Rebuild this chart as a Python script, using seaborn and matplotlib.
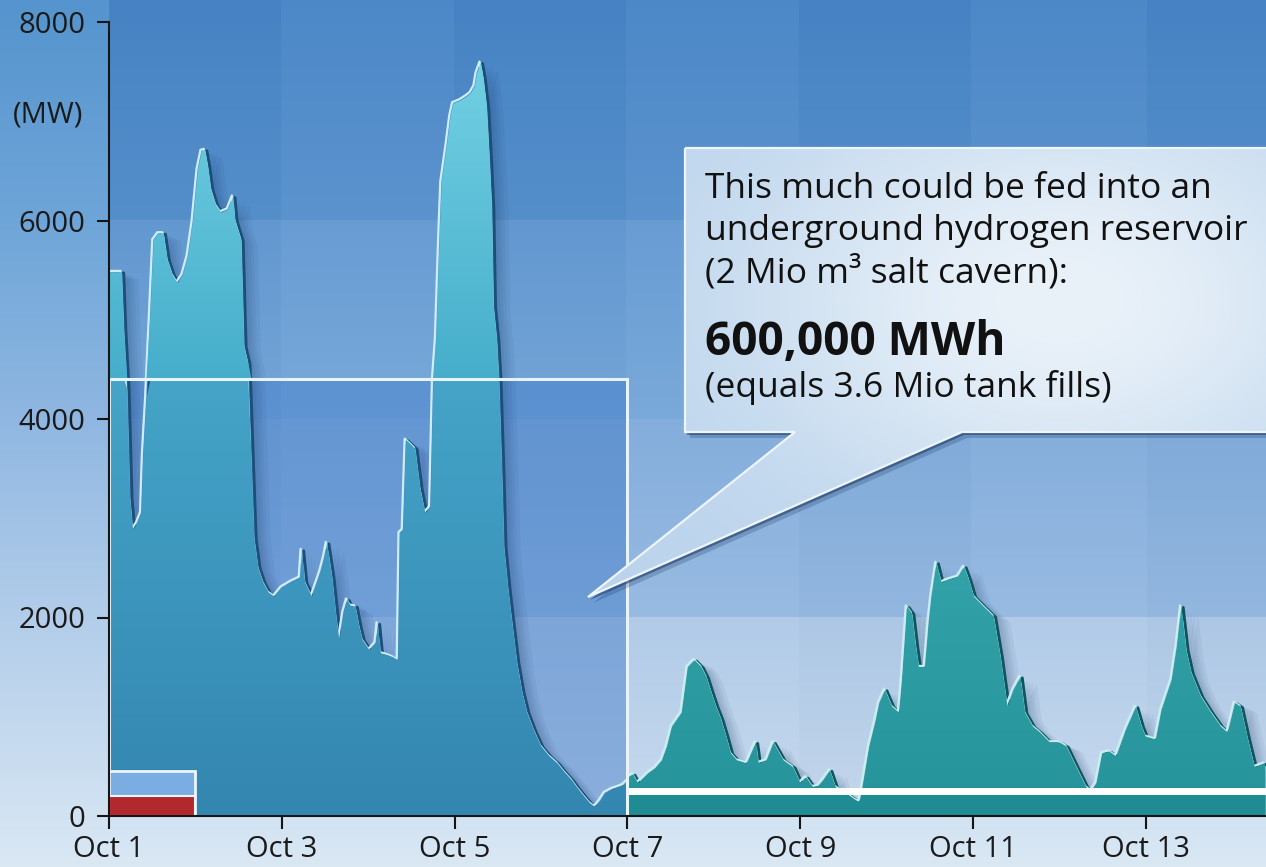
import numpy as np
import pandas as pd
import matplotlib
matplotlib.use("Agg")
import matplotlib.pyplot as plt
import seaborn as sns
from matplotlib.colors import LinearSegmentedColormap, to_rgb
from matplotlib.path import Path
from matplotlib.patches import Polygon, Rectangle
from matplotlib.transforms import offset_copy

sns.set_style("ticks")
plt.rcParams["font.family"] = ["Open Sans", "DejaVu Sans"]

# ---------------------------------------------------------------- data
# hours since Oct 1 00:00 and surplus wind power (MW), Oct 1 - Oct 7
hours_a = [0, 3.6, 4.2, 5.1, 5.9, 6.7, 7.9, 9.0, 9.5, 10.4,
           11.5, 12.4, 13.8, 15.2, 16.3, 17.7, 19.1, 20.5, 21.9, 23.3,
           24.7, 25.8, 26.7, 27.5, 28.4, 29.8, 31.2, 33.1, 34.5, 35.1,
           36.8, 37.6, 38.7, 39.6, 40.4, 41.5, 42.9, 44.4, 46.0, 48.0,
           50.8, 53.1, 53.6, 54.5, 56.4, 58.7, 59.8, 60.6, 62.0, 63.2,
           64.0, 65.2, 66.2, 67.1, 68.5, 69.6, 70.5, 72.4, 74.1, 74.7,
           75.5, 77.5, 78.9, 80.3, 80.8, 81.7, 82.5, 83.7, 85.1, 86.5,
           87.9, 89.3, 90.1, 90.9, 91.8, 92.4, 93.8, 94.9, 95.7, 97.7,
           99.4, 100.5, 101.6, 102.2, 103.3, 104.1, 105.0, 105.8, 106.4, 106.9,
           107.8, 108.4, 109.2, 109.8, 110.9, 111.7, 113.4, 114.8, 116.2, 118.2,
           120.1, 122.4, 124.6, 126.6, 128.6, 130.2, 132.2, 133.6, 135.0, 136.4,
           137.8, 139.8, 141.5, 142.9, 144.0]
power_a = [5480, 5480, 4900, 4300, 3210, 2880, 2950, 3050, 3620, 4200,
           5070, 5800, 5870, 5870, 5600, 5450, 5370, 5450, 5630, 5980,
           6510, 6700, 6710, 6550, 6310, 6150, 6080, 6110, 6240, 6000,
           5800, 4730, 4560, 3600, 2800, 2500, 2350, 2250, 2210, 2300,
           2360, 2400, 2680, 2350, 2210, 2450, 2600, 2750, 2410, 2000,
           1770, 2050, 2180, 2120, 2110, 1900, 1770, 1670, 1740, 1940,
           1640, 1620, 1600, 1570, 2850, 2880, 3790, 3750, 3700, 3300,
           3050, 3110, 4400, 4800, 5800, 6380, 6740, 7050, 7180, 7210,
           7250, 7280, 7350, 7480, 7590, 7420, 7140, 6600, 6140, 5130,
           4800, 4400, 3500, 2710, 2300, 2050, 1540, 1250, 1040, 850,
           700, 600, 530, 440, 360, 280, 190, 130, 90, 150,
           230, 270, 290, 310, 350]

# Oct 7 - Oct 14
hours_b = [144.3, 145.6, 147.0, 149.8, 151.7, 153.6, 155.0, 156.4, 159.1, 160.8,
           162.7, 164.6, 166.0, 167.4, 168.7, 170.1, 171.5, 172.8, 174.5, 177.2,
           179.7, 180.5, 182.7, 184.6, 186.0, 187.4, 190.1, 192.1, 193.7, 195.6,
           197.0, 198.4, 200.3, 201.9, 204.7, 207.4, 208.5, 209.3, 211.2, 212.9,
           214.0, 215.6, 217.6, 219.5, 220.3, 221.7, 223.1, 224.2, 225.0, 226.7,
           227.7, 228.5, 229.9, 231.3, 233.2, 235.9, 237.6, 238.9, 240.3, 243.0,
           245.8, 247.7, 249.6, 251.3, 253.2, 254.5, 256.7, 258.7, 261.4, 264.1,
           266.0, 268.8, 271.5, 272.9, 274.3, 275.9, 277.9, 279.8, 282.5, 285.3,
           286.9, 288.0, 290.8, 292.4, 295.2, 296.6, 297.9, 299.3, 300.7, 303.4,
           306.2, 308.9, 310.8, 312.8, 314.4, 316.4, 318.3, 321.1]
power_b = [390, 420, 330, 430, 480, 560, 700, 900, 1040, 1500,
           1570, 1500, 1400, 1240, 1100, 970, 800, 630, 560, 530,
           740, 530, 560, 740, 650, 560, 490, 330, 390, 290,
           300, 360, 460, 290, 230, 160, 140, 290, 700, 950,
           1140, 1270, 1100, 1040, 1370, 2110, 2040, 1700, 1500, 1500,
           1940, 2210, 2550, 2350, 2380, 2410, 2510, 2380, 2210, 2110,
           2010, 1600, 1100, 1270, 1400, 1040, 900, 840, 740, 740,
           700, 490, 290, 250, 330, 630, 650, 600, 870, 1100,
           900, 800, 770, 1070, 1370, 1700, 2110, 1670, 1440, 1200,
           1040, 900, 840, 1140, 1100, 770, 490, 530]

tick_hours = [0, 48, 96, 144, 192, 240, 288]
tick_labels = ["Oct 1", "Oct 3", "Oct 5", "Oct 7", "Oct 9", "Oct 11", "Oct 13"]
y_ticks = [0, 2000, 4000, 6000, 8000]

window_end_h = 144          # end of the storage window (Oct 7)
storage_level_mw = 4400     # constant feed-in equivalent over the window
base_level_mw = 250         # continuous draw after Oct 7
bar_levels_mw = [200, 450]  # small reference bars on Oct 1

callout_lines = ["This much could be fed into an",
                 "underground hydrogen reservoir",
                 "(2 Mio m³ salt cavern):"]
callout_value = "600,000 MWh"
callout_note = "(equals 3.6 Mio tank fills)"

# ---------------------------------------------------------------- layout
W, H = 1266, 867
X0, Y0 = 109, 816            # pixel position of the origin
PX_PER_DAY, PX_PER_MW = 86.4, 0.09925
xmax = (W - X0) / PX_PER_DAY * 24
ymax = Y0 / PX_PER_MW

fig = plt.figure(figsize=(W / 100, H / 100), dpi=100)


def rgb(c):
    return np.array(to_rgb(c))


# figure background gradient
bg = fig.add_axes([0, 0, 1, 1], zorder=-5)
bg_cmap = LinearSegmentedColormap.from_list(
    "bg", [(0.0, "#dae8f4"), (0.29, "#b2cdea"), (0.52, "#8fb7e1"),
           (0.75, "#6ea5d8"), (1.0, "#5594ce")])
bg.imshow(np.linspace(0, 1, 256).reshape(-1, 1), cmap=bg_cmap, origin="lower",
          aspect="auto", extent=[0, 1, 0, 1])
bg.axis("off")

ax = fig.add_axes([X0 / W, (H - Y0) / H, (W - X0) / W, Y0 / H])
ax.patch.set_alpha(0)

# stepped background bands (2000 MW rows, 2-day columns)
bands = [(0, 2000, "#c6d9ee", "#aec9e7"), (2000, 4000, "#95b9e1", "#80abdb"),
         (4000, 6000, "#76a7d9", "#6399d2"), (6000, ymax + 1, "#5690cc", "#4784c6")]
ny, nx = 822, 322
yc = (np.arange(ny) + 0.5) * ymax / ny
xc = (np.arange(nx) + 0.5) * xmax / nx
img = np.zeros((ny, nx, 3))
for i, yv in enumerate(yc):
    for lo, hi, cb, ct in bands:
        if lo <= yv < hi:
            f = (yv - lo) / (hi - lo)
            img[i, :, :] = rgb(cb) * (1 - f) + rgb(ct) * f
odd = ((xc // 48) % 2 == 1)
img[:, odd, :] = img[:, odd, :] + 0.03 * (1 - img[:, odd, :])
img[:, ~odd, :] = img[:, ~odd, :] * 0.99
ax.imshow(img, origin="lower", extent=[0, xmax, 0, ymax], aspect="auto",
          zorder=0, interpolation="nearest")

# tinted window behind the stored-energy block
ax.add_patch(Rectangle((0, 0), window_end_h, storage_level_mw,
                       facecolor=(60 / 255, 120 / 255, 200 / 255), alpha=0.42,
                       lw=0, zorder=1))

ha_, pa_ = np.array(hours_a), np.array(power_a, float)
hb_, pb_ = np.array(hours_b), np.array(power_b, float)
h_all = np.concatenate([ha_, hb_])
p_all = np.concatenate([pa_, pb_])

# soft drop shadow of the whole area
for off in (3, 6, 9, 12, 16):
    sh = ax.fill_between(h_all, p_all, 0, color="#0c2a55", alpha=0.055,
                         lw=0, zorder=2)
    sh.set_transform(offset_copy(ax.transData, fig=fig, x=off, y=-0.4 * off,
                                 units="dots"))

# bevel edges: light on the rising side, dark on the falling side
df_a = pd.DataFrame({"h": ha_, "mw": pa_})
df_b = pd.DataFrame({"h": hb_, "mw": pb_})
for df, dark, light in ((df_a, "#1b4f78", "#cdeef8"), (df_b, "#0e5560", "#c9eef0")):
    sns.lineplot(data=df, x="h", y="mw", ax=ax, color=dark, lw=2.0,
                 estimator=None, sort=False, zorder=3)
    ax.lines[-1].set_transform(offset_copy(ax.transData, fig=fig, x=1.8,
                                           y=-0.8, units="dots"))
    sns.lineplot(data=df, x="h", y="mw", ax=ax, color=light, lw=1.6,
                 estimator=None, sort=False, zorder=3.1)
    ax.lines[-1].set_transform(offset_copy(ax.transData, fig=fig, x=-1.4,
                                           y=1.2, units="dots"))


def gradient_fill(x, ylow, yhigh, c_bot, c_top, lo, hi, z):
    coll = ax.fill_between(x, ylow, yhigh, facecolor="none", edgecolor="none",
                           lw=0, zorder=z)
    path = Path.make_compound_path(*coll.get_paths())
    cmap = LinearSegmentedColormap.from_list("g", [c_bot, c_top])
    im = ax.imshow(np.linspace(0, 1, 256).reshape(-1, 1), cmap=cmap,
                   origin="lower", aspect="auto", zorder=z,
                   extent=[x.min(), x.max(), lo, hi], interpolation="bilinear")
    im.set_clip_path(path, transform=ax.transData)


# area below the storage level inside the window
gradient_fill(ha_, 0, np.minimum(pa_, storage_level_mw), "#3386b0", "#45a4c8",
              0, storage_level_mw, 4)
# peaks above the storage level
gradient_fill(ha_, storage_level_mw, np.maximum(pa_, storage_level_mw),
              "#46aecb", "#72d0e3", storage_level_mw, 7600, 4)
# surplus after Oct 7
gradient_fill(hb_, 0, pb_, "#26939a", "#32a3a9", 0, 2600, 4)

# continuous draw strip after Oct 7
ax.fill_between(hb_, 0, np.minimum(pb_, base_level_mw), color="#1f8b92",
                lw=0, zorder=5)
ax.hlines(base_level_mw, window_end_h, xmax, color="white", lw=5, zorder=6)

# outline of the stored-energy block
ax.add_patch(Rectangle((0, 0), window_end_h, storage_level_mw, fill=False,
                       edgecolor="#e8f4fb", lw=2.2, zorder=6))

# small reference bars on Oct 1
ax.bar([12], [bar_levels_mw[1]], width=24, color="#7aaee3",
       edgecolor="#eef6fb", lw=2, zorder=7)
ax.bar([12], [bar_levels_mw[0]], width=24, color="#b3282d",
       edgecolor="#eef6fb", lw=1.5, zorder=8)

ax.set_xlim(0, xmax)
ax.set_ylim(0, ymax)
ax.set_xlabel("")
ax.set_ylabel("")
ax.set_xticks(tick_hours)
ax.set_xticklabels(tick_labels)
ax.set_yticks(y_ticks)
ax.set_yticklabels([str(v) for v in y_ticks])
for s in ("top", "right"):
    ax.spines[s].set_visible(False)
ax.spines["left"].set_bounds(0, 8000)
for s in ("left", "bottom"):
    ax.spines[s].set_linewidth(1.5)
    ax.spines[s].set_color("#151515")
    ax.spines[s].set_zorder(10)
ax.tick_params(axis="both", length=9, width=1.5, color="#151515",
               labelcolor="#1a1a1a", labelsize=21)
ax.tick_params(axis="y", pad=8)
ax.tick_params(axis="x", pad=5)

# ---------------------------------------------------------------- callout
ov = fig.add_axes([0, 0, 1, 1], zorder=5)
ov.set_xlim(0, W)
ov.set_ylim(H, 0)
ov.axis("off")

bubble = np.array([(685, 148), (1290, 148), (1290, 432), (962, 432),
                   (588, 597), (795, 432), (685, 432)], float)
ov.add_patch(Polygon(bubble + [5, 6], closed=True, facecolor="#1d3a62",
                     alpha=0.25, lw=0, zorder=1))
ov.add_patch(Polygon(bubble + [2, 3], closed=True, facecolor="#1d3a62",
                     alpha=0.55, lw=0, zorder=1.1))
shape = Polygon(bubble, closed=True, facecolor="none", edgecolor="#eef5fb",
                lw=1.6, zorder=3)
ov.add_patch(shape)
gx = np.linspace(580, W, 300)
gy = np.linspace(140, 600, 200)
GX, GY = np.meshgrid(gx, gy)
w = np.exp(-(((GX - 1060) / 320) ** 2 + ((GY - 300) / 210) ** 2))
c_edge, c_light = rgb("#bad3ec"), rgb("#eaf2f9")
bub = c_edge[None, None, :] * (1 - w[..., None]) + c_light[None, None, :] * w[..., None]
bim = ov.imshow(bub, extent=[580, W, 600, 140], origin="upper", aspect="auto",
                zorder=2, interpolation="bilinear")
bim.set_clip_path(shape)
ov.set_xlim(0, W)
ov.set_ylim(H, 0)

for i, line in enumerate(callout_lines):
    ov.text(705, 198 + i * 42.5, line, fontsize=25.5, color="#111111",
            va="baseline", ha="left", zorder=4)
ov.text(705, 355, callout_value, fontsize=33, fontweight="bold",
        color="#111111", va="baseline", ha="left", zorder=4)
ov.text(705, 397, callout_note, fontsize=25.5, color="#111111",
        va="baseline", ha="left", zorder=4)

ov.text(48, 115, "(MW)", fontsize=21, color="#1a1a1a", ha="center",
        va="center", zorder=4)

fig.savefig("out.png", dpi=100)
